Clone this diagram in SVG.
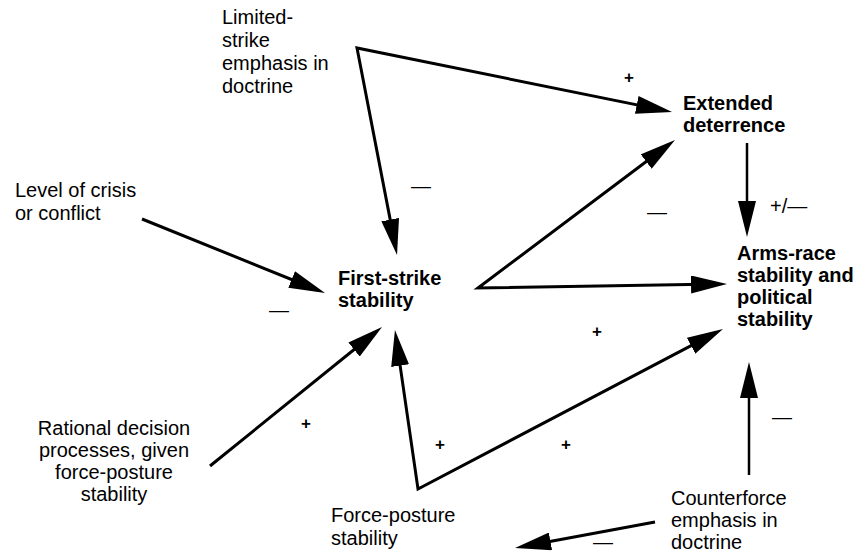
<svg xmlns="http://www.w3.org/2000/svg" width="859" height="554" viewBox="0 0 859 554">
  <style>
    text { font-family: "Liberation Sans", Arial, Helvetica, sans-serif; font-size: 20px; fill: #000; }
    .b { font-weight: bold; }
    .mid { text-anchor: middle; }
    .sign { font-size: 17px; font-weight: bold; text-anchor: middle; }
    .dash { text-anchor: middle; }
    .edge { fill: none; stroke: #000; stroke-width: 3; stroke-linejoin: miter; marker-end: url(#head); }
    .edge2 { marker-start: url(#head); }
  </style>
  <defs>
    <marker id="head" markerUnits="userSpaceOnUse" markerWidth="36" markerHeight="18" refX="28" refY="9" orient="auto-start-reverse">
      <path d="M0,0 L36,9 L0,18 Z" fill="#000"/>
    </marker>
  </defs>
  <rect width="859" height="554" fill="#fff"/>

  <g id="connectors">
    <!-- limited-strike emphasis: to extended deterrence and to first-strike stability -->
    <path class="edge edge2" d="M664.2,110.4 L357,48 L395.5,247.1"/>
    <!-- level of crisis to first-strike stability -->
    <path class="edge" d="M142,219 L317.6,290"/>
    <!-- first-strike stability to extended deterrence and to arms-race stability -->
    <path class="edge edge2" d="M668.6,144.8 L478,288 L719,284.1"/>
    <!-- extended deterrence to arms-race stability -->
    <path class="edge" style="stroke-width:2.5" d="M747,143 L747,229"/>
    <!-- rational decision processes to first-strike stability -->
    <path class="edge" d="M210,466 L375.8,332"/>
    <!-- force-posture stability: to first-strike and to arms-race stability -->
    <path class="edge edge2" d="M396.1,337.9 L418,489 L715.9,332.7"/>
    <!-- counterforce emphasis to arms-race stability -->
    <path class="edge" style="stroke-width:2.5" d="M749,475 L749,370"/>
    <!-- counterforce emphasis to force-posture stability -->
    <path class="edge" d="M655,522 L522.9,546.5"/>
  </g>

  <g id="signs">
    <text class="sign" x="629" y="83">+</text>
    <text class="sign" x="597" y="337">+</text>
    <text class="sign" x="306" y="429">+</text>
    <text class="sign" x="440" y="450">+</text>
    <text class="sign" x="566" y="450">+</text>
    <text class="dash" x="279" y="317">—</text>
    <text class="dash" x="421" y="193">—</text>
    <text class="dash" x="657" y="219">—</text>
    <text class="dash" x="782" y="424">—</text>
    <text class="dash" x="603" y="549">—</text>
    <text x="770" y="213">+/—</text>
  </g>

  <g id="limited-strike">
    <text x="222" y="24">Limited-</text>
    <text x="222" y="47">strike</text>
    <text x="222" y="70">emphasis in</text>
    <text x="222" y="93">doctrine</text>
  </g>

  <g id="level-of-crisis">
    <text x="15" y="197">Level of crisis</text>
    <text x="15" y="220">or conflict</text>
  </g>

  <g id="rational-decision">
    <text class="mid" x="114" y="435">Rational decision</text>
    <text class="mid" x="114" y="457">processes, given</text>
    <text class="mid" x="114" y="479">force-posture</text>
    <text class="mid" x="114" y="501">stability</text>
  </g>

  <g id="first-strike">
    <text class="b" x="338" y="285">First-strike</text>
    <text class="b" x="338" y="307">stability</text>
  </g>

  <g id="extended-deterrence">
    <text class="b" x="683" y="110">Extended</text>
    <text class="b" x="683" y="132">deterrence</text>
  </g>

  <g id="arms-race">
    <text class="b" x="737" y="260">Arms-race</text>
    <text class="b" x="737" y="282">stability and</text>
    <text class="b" x="737" y="304">political</text>
    <text class="b" x="737" y="326">stability</text>
  </g>

  <g id="force-posture">
    <text x="331" y="522">Force-posture</text>
    <text x="331" y="545">stability</text>
  </g>

  <g id="counterforce">
    <text x="671" y="505">Counterforce</text>
    <text x="671" y="527">emphasis in</text>
    <text x="671" y="549">doctrine</text>
  </g>
</svg>
